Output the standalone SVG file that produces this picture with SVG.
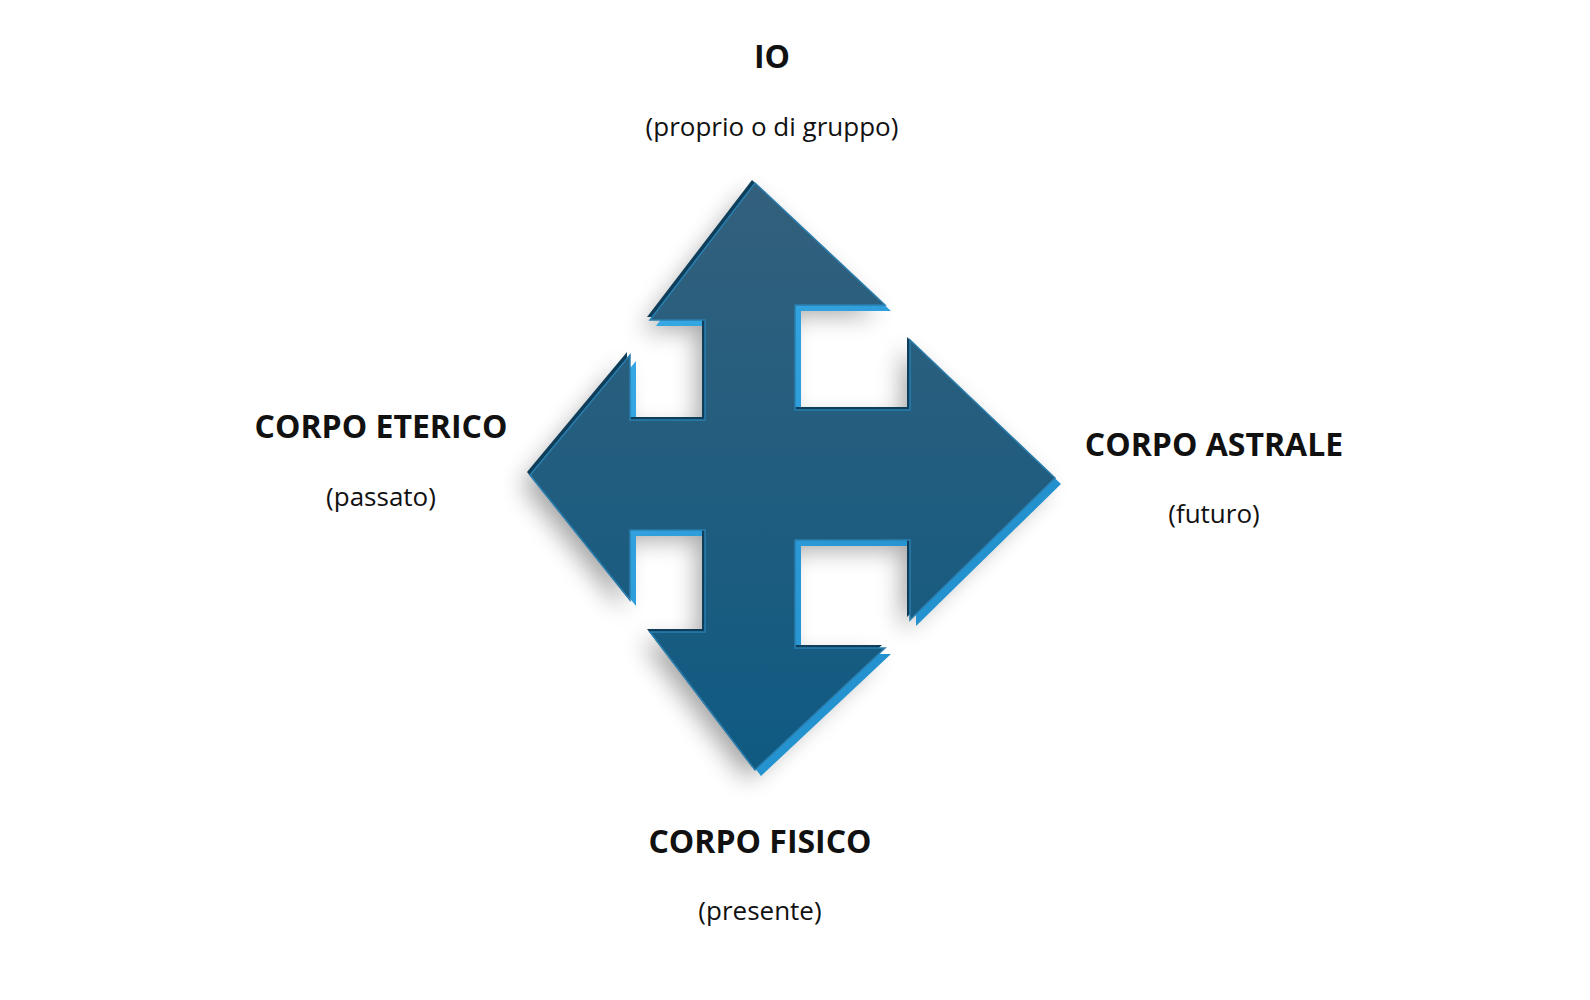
<svg xmlns="http://www.w3.org/2000/svg" width="1590" height="1000" viewBox="0 0 1590 1000">
<style>
.t{font-family:"Open Sans","Noto Sans","Liberation Sans",sans-serif;fill:#111;text-anchor:middle}
.b{font-weight:bold;font-size:32px}
.s{font-size:26px}
</style>
<defs>
<linearGradient id="g" x1="0" y1="0" x2="0" y2="1">
<stop offset="0" stop-color="#33607c"/><stop offset="1" stop-color="#0f5a82"/>
</linearGradient>
<linearGradient id="l" x1="0" y1="0" x2="1" y2="1">
<stop offset="0" stop-color="#3db2ec"/><stop offset="1" stop-color="#1a86c4"/>
</linearGradient>
<filter id="sh" x="-20%" y="-20%" width="140%" height="140%"><feGaussianBlur stdDeviation="12"/></filter>
<polygon id="a" points="755,183 885,305 795,305 795,410 910,410 910,340 1055,478 910,620 910,540 795,540 795,648 885,648 755,770 650,632 705,632 705,530 630,530 630,600 530,475 630,355 630,420 705,420 705,320 650,320"/>
</defs>
<g id="arrow">
<use href="#a" fill="#000" opacity="0.35" filter="url(#sh)" transform="translate(-8,10)"/>
<use href="#a" fill="url(#l)" transform="translate(6,6)"/>
<use href="#a" fill="#0e3e5a" transform="translate(-3,-3)"/>
<use href="#a" fill="url(#g)" stroke="#2a7fb0" stroke-width="1.5"/>
</g>
<g id="io"><text class="t b" x="772" y="68">IO</text><text class="t s" x="772" y="136">(proprio o di gruppo)</text></g>
<g id="eterico"><text class="t b" x="381" y="438">CORPO ETERICO</text><text class="t s" x="381" y="506">(passato)</text></g>
<g id="astrale"><text class="t b" x="1214" y="456">CORPO ASTRALE</text><text class="t s" x="1214" y="523">(futuro)</text></g>
<g id="fisico"><text class="t b" x="760" y="853">CORPO FISICO</text><text class="t s" x="760" y="920">(presente)</text></g>
<g id="connectors"/>
</svg>
